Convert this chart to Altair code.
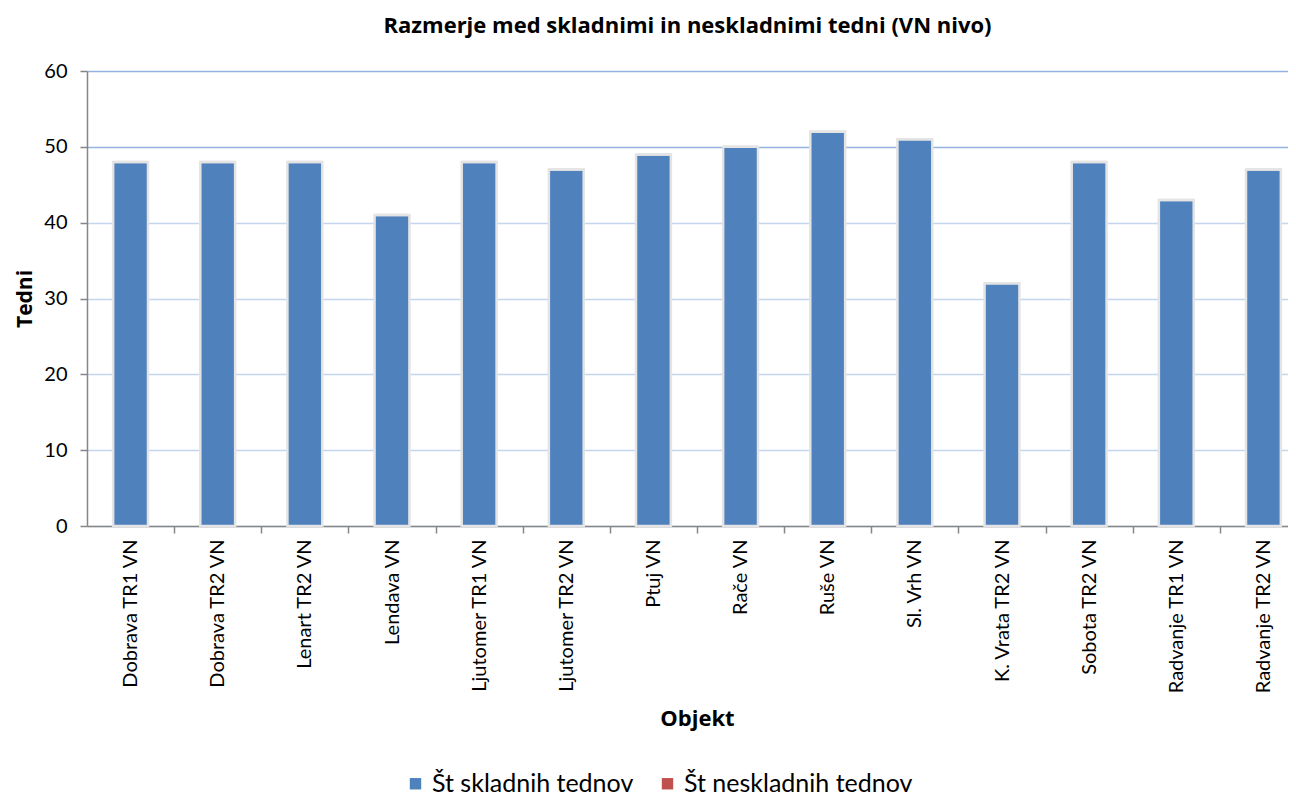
import altair as alt
import pandas as pd

categories = ["Dobrava TR1 VN", "Dobrava TR2 VN", "Lenart TR2 VN", "Lendava VN",
              "Ljutomer TR1 VN", "Ljutomer TR2 VN", "Ptuj VN", "Rače VN", "Ruše VN",
              "Sl. Vrh VN", "K. Vrata TR2 VN", "Sobota TR2 VN", "Radvanje TR1 VN",
              "Radvanje TR2 VN"]
skladni = [48, 48, 48, 41, 48, 47, 49, 50, 52, 51, 32, 48, 43, 47]
neskladni = [0] * 14
series = ["Št skladnih tednov", "Št neskladnih tednov"]
colors = ["#4F81BD", "#C0504D"]

rows = []
for c, a, b in zip(categories, skladni, neskladni):
    rows.append({"Objekt": c, "Serija": series[0], "Tedni": a, "o": 0})
    rows.append({"Objekt": c, "Serija": series[1], "Tedni": b, "o": 1})
df = pd.DataFrame(rows)

FONT = "Lato"
BFONT = "Open Sans"
XRANGE = 1220
STEP = XRANGE / len(categories)

x = alt.X("Objekt:N", sort=categories,
          scale=alt.Scale(paddingInner=0.6, paddingOuter=0.3, range=[0, XRANGE]),
          axis=alt.Axis(title="Objekt", labelAngle=270, labelFontSize=20, labelColor="#000",
                        labelFont=FONT, titleFont=BFONT, titleFontSize=22, titleFontWeight="bold",
                        titleColor="#000", titlePadding=14, domainColor="#868686",
                        tickColor="#868686", tickSize=7, tickWidth=1.5, labelPadding=6,
                        tickOffset=STEP / 2, labelOffset=-STEP / 2, grid=False,
                        domainWidth=1.5))
y = alt.Y("Tedni:Q", stack="zero",
          scale=alt.Scale(domain=[0, 60], nice=False),
          axis=alt.Axis(title="Tedni", values=[0, 10, 20, 30, 40, 50, 60], labelFontSize=20,
                        labelColor="#000", labelFont=FONT, titleFont=BFONT, titleFontSize=21,
                        titleFontWeight="bold", titleColor="#000", titlePadding=8,
                        domainColor="#868686", tickColor="#868686", tickSize=7, tickWidth=1.5,
                        domainWidth=1.5,
                        gridColor="#95B3E0",
                        gridOpacity={"condition": {"test": "datum.value >= 50", "value": 1},
                                     "value": 0.55},
                        gridWidth=1.5, labelPadding=13))

bars = alt.Chart(df).mark_bar(stroke="#E4E4E4", strokeWidth=2.5).encode(
    x=x, y=y,
    color=alt.Color("Serija:N", sort=series,
                    scale=alt.Scale(domain=series, range=colors),
                    legend=alt.Legend(title=None, orient="none", direction="horizontal",
                                      legendX=316, legendY=700, symbolType="square",
                                      symbolSize=130, symbolStrokeWidth=0,
                                      labelFontSize=25, labelFont=FONT, labelColor="#000",
                                      columnPadding=21, labelLimit=400)),
    order=alt.Order("o:Q"))

chart = bars.properties(
    width=1201, height=455,
    title=alt.Title("Razmerje med skladnimi in neskladnimi tedni (VN nivo)",
                    font=BFONT, fontSize=22, fontWeight="bold", color="#000",
                    anchor="middle", offset=23),
    autosize=alt.AutoSizeParams(type="none"),
    padding={"left": 79, "top": 63, "right": 0, "bottom": 270},
).configure_view(stroke=None).configure(background="white")

chart.save("out.html", embed_options={"renderer": "svg", "actions": False})
